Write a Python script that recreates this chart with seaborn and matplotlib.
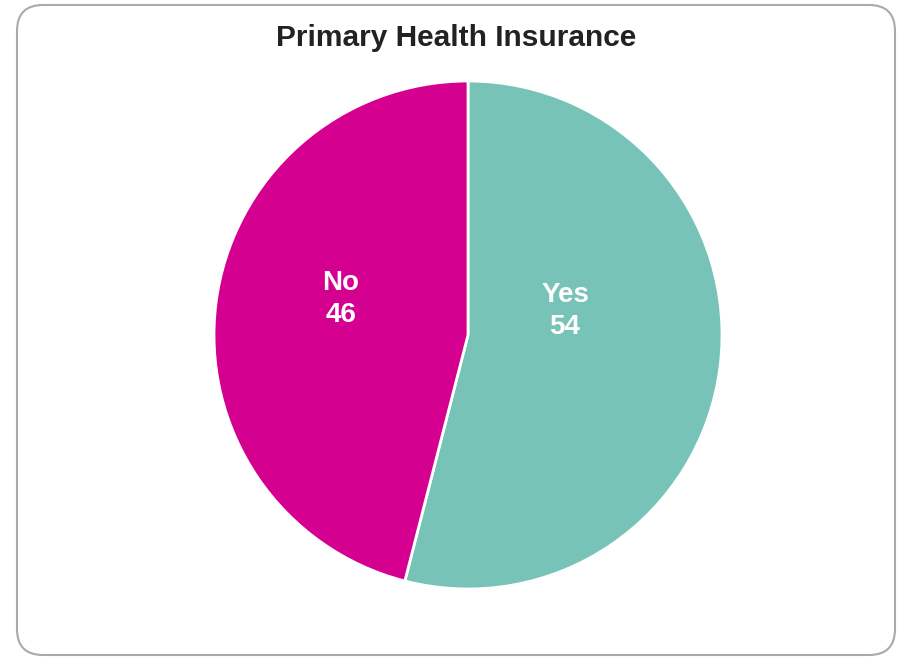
import matplotlib
matplotlib.use("Agg")
import matplotlib.pyplot as plt
from matplotlib.patches import FancyBboxPatch
import seaborn as sns

# Survey answers
categories = ["Yes", "No"]
values = [54, 46]
title = "Primary Health Insurance"

sns.set_theme(style="white")
plt.rcParams["font.family"] = ["Liberation Sans", "DejaVu Sans"]

colors = ["#78c3b7", "#d60090"]

W, H = 897, 657
fig = plt.figure(figsize=(W / 100, H / 100), dpi=100)
fig.patch.set_facecolor("white")

# Background layer in pixel units for the rounded frame and the title
bg = fig.add_axes([0, 0, 1, 1])
bg.set_xlim(0, W)
bg.set_ylim(0, H)
bg.axis("off")
frame = FancyBboxPatch((17, 2), 878, 650,
                       boxstyle="round,pad=0,rounding_size=26",
                       facecolor="white", edgecolor="#aaaaaa", linewidth=1.5)
bg.add_patch(frame)
bg.text(456, H - 38, title, ha="center", va="center",
        fontsize=21.5, fontweight="bold", color="#222222")

# Pie chart
cx, cy, r = 468, H - 335, 254
ax = fig.add_axes([(cx - r) / W, (cy - r) / H, 2 * r / W, 2 * r / H])
wedges, _ = ax.pie(values, colors=colors, startangle=90, counterclock=False,
                   wedgeprops=dict(edgecolor="white", linewidth=2))
ax.set_xlim(-1, 1)
ax.set_ylim(-1, 1)
ax.set_aspect("equal")
ax.axis("off")

# Value labels inside the slices
label_pos = {"Yes": (0.382, 0.095), "No": (-0.50, 0.142)}
for cat, val in zip(categories, values):
    x, y = label_pos[cat]
    ax.text(x, y, f"{cat}\n{val}", ha="center", va="center",
            fontsize=20, fontweight="bold", color="white", linespacing=1.3)

fig.savefig("out.png", dpi=100, facecolor="white")
